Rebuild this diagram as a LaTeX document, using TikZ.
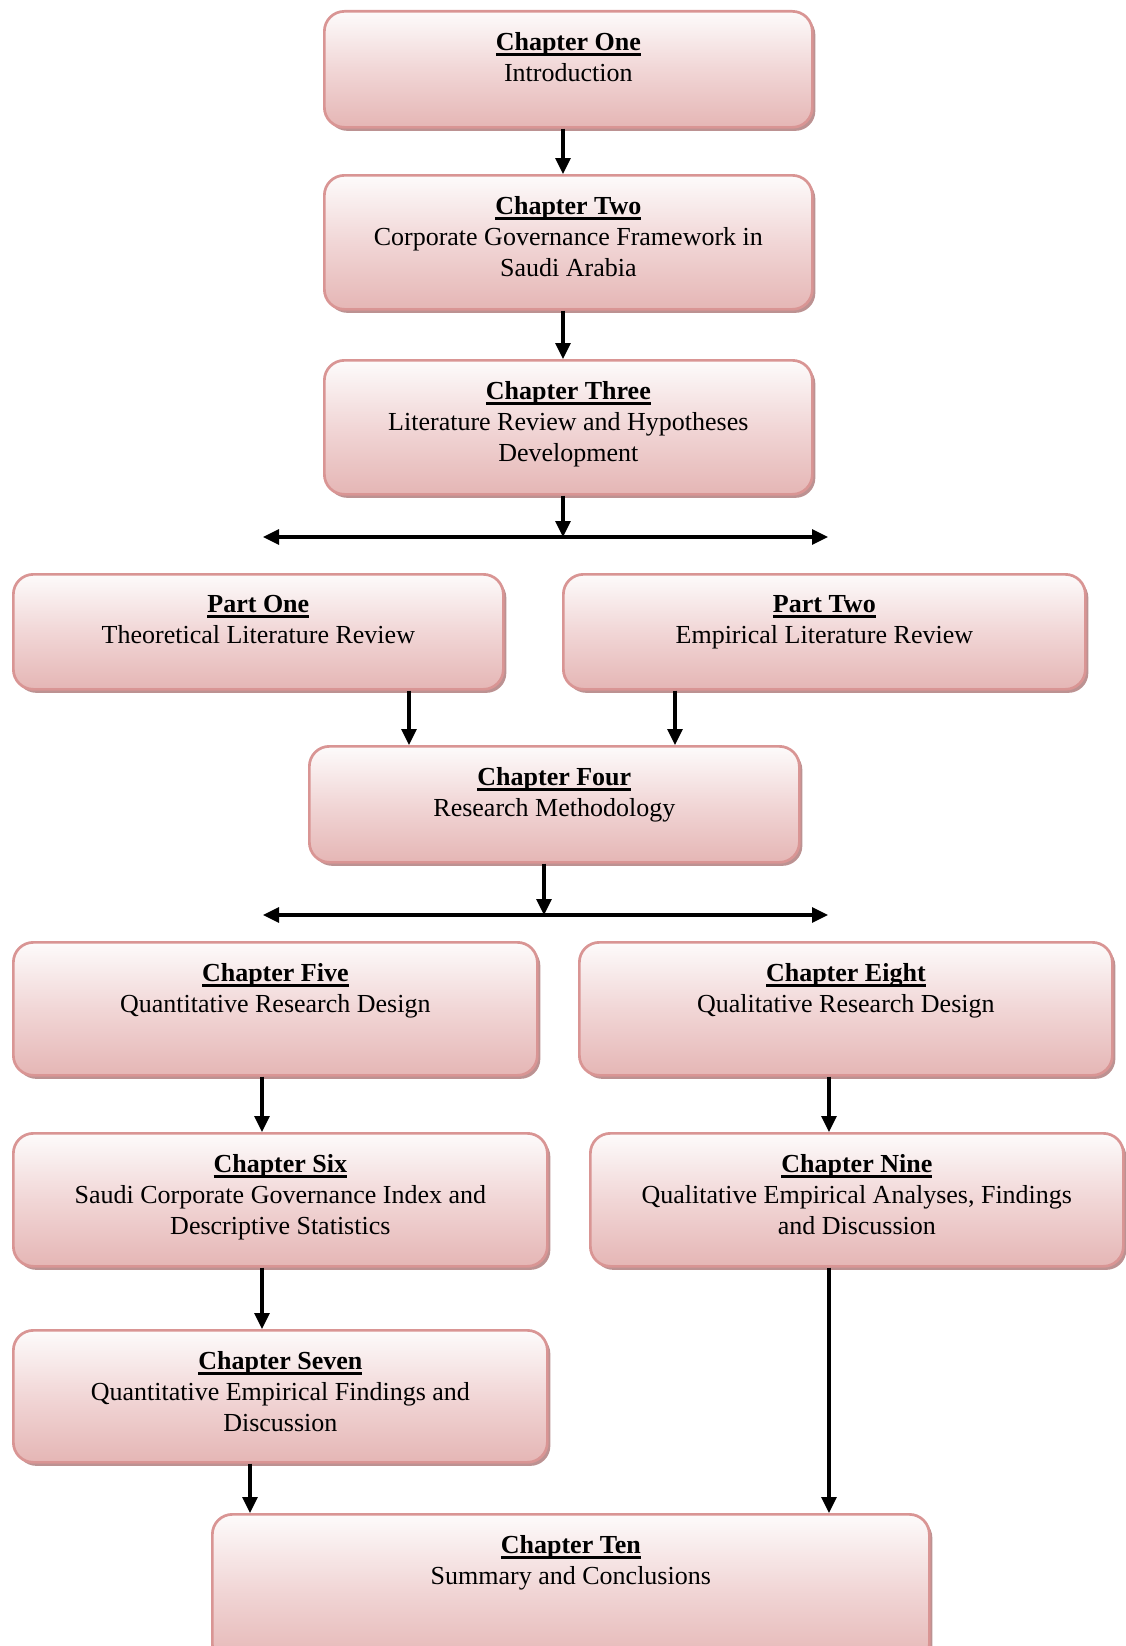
\documentclass[tikz,border=0pt]{standalone}
\usepackage{fontspec}
\setmainfont{Liberation Serif}
\usetikzlibrary{arrows.meta,shadows,calc}
\definecolor{pinkb}{RGB}{229,182,181}
\definecolor{pinkm}{RGB}{241,214,214}
\definecolor{pinkt}{RGB}{253,251,251}
\definecolor{pinkd}{RGB}{217,149,148}
\definecolor{shad}{RGB}{188,146,146}
\newcommand\ulin[1]{\leavevmode{\setbox0\hbox{#1}\rlap{\raisebox{-5.2pt}{\rule{\wd0}{2.3pt}}}\box0}}
\newcommand\chapbox[4]{\begin{minipage}[t][#2pt][t]{#1pt}\centering\fontsize{26}{31}\selectfont\vspace*{21pt}\ulin{\textbf{#3}}\\#4\end{minipage}}
\tikzset{
  chap/.style={draw=pinkd, line width=2.7pt, rounded corners=20pt, inner sep=0pt,
    top color=pinkt, bottom color=pinkb, middle color=pinkm, anchor=north west,
    drop shadow={shadow xshift=3pt, shadow yshift=-3.5pt, fill=shad, opacity=1}},
  arr/.style={line width=3.2pt, -{Triangle[width=15pt,length=16pt]}},
  darr/.style={line width=3.2pt, {Triangle[width=15pt,length=16pt]}-{Triangle[width=15pt,length=16pt]}}
}
\begin{document}
\begin{tikzpicture}[x=1pt,y=-1pt]
\useasboundingbox (0,0) rectangle (1125,1646);
\node[chap] (one) at (323,10) {\chapbox{488}{116}{Chapter One}{Introduction}};
\node[chap] (two) at (323,174) {\chapbox{488}{134}{Chapter Two}{Corporate Governance Framework in\\Saudi Arabia}};
\node[chap] (three) at (323,359) {\chapbox{488}{134}{Chapter Three}{Literature Review and Hypotheses\\Development}};
\node[chap] (p1) at (12,573) {\chapbox{490}{115}{Part One}{Theoretical Literature Review}};
\node[chap] (p2) at (562,573) {\chapbox{522}{115}{Part Two}{Empirical Literature Review}};
\node[chap] (four) at (308,745) {\chapbox{490}{116}{Chapter Four}{Research Methodology}};
\node[chap] (five) at (12,941) {\chapbox{524}{133}{Chapter Five}{Quantitative Research Design}};
\node[chap] (eight) at (578,941) {\chapbox{533}{133}{Chapter Eight}{Qualitative Research Design}};
\node[chap] (six) at (12,1132) {\chapbox{534}{133}{Chapter Six}{Saudi Corporate Governance Index and\\Descriptive Statistics}};
\node[chap] (nine) at (589,1132) {\chapbox{533}{133}{Chapter Nine}{Qualitative Empirical Analyses, Findings\\and Discussion}};
\node[chap] (seven) at (12,1329) {\chapbox{534}{132}{Chapter Seven}{Quantitative Empirical Findings and\\Discussion}};
\node[chap] (ten) at (211,1513) {\chapbox{717}{150}{Chapter Ten}{Summary and Conclusions}};
% x guides
\coordinate (xa) at (563,0);
\coordinate (xb) at (409,0);
\coordinate (xc) at (675,0);
\coordinate (xd) at (544,0);
\coordinate (xe) at (262,0);
\coordinate (xf) at (829,0);
\coordinate (xg) at (250,0);
\coordinate (h1l) at (263,537);
\coordinate (h1r) at (828,537);
\coordinate (h2l) at (263,915);
\coordinate (h2r) at (828,915);
% connectors
\draw[arr] (xa |- one.south) -- (xa |- two.north);
\draw[arr] (xa |- two.south) -- (xa |- three.north);
\draw[arr] (xa |- three.south) -- (xa |- h1l);
\draw[darr] (h1l) -- (h1r);
\draw[arr] (xb |- p1.south) -- (xb |- four.north);
\draw[arr] (xc |- p2.south) -- (xc |- four.north);
\draw[arr] (xd |- four.south) -- (xd |- h2l);
\draw[darr] (h2l) -- (h2r);
\draw[arr] (xe |- five.south) -- (xe |- six.north);
\draw[arr] (xf |- eight.south) -- (xf |- nine.north);
\draw[arr] (xe |- six.south) -- (xe |- seven.north);
\draw[arr] (xg |- seven.south) -- (xg |- ten.north);
\draw[arr] (xf |- nine.south) -- (xf |- ten.north);
\end{tikzpicture}
\end{document}
